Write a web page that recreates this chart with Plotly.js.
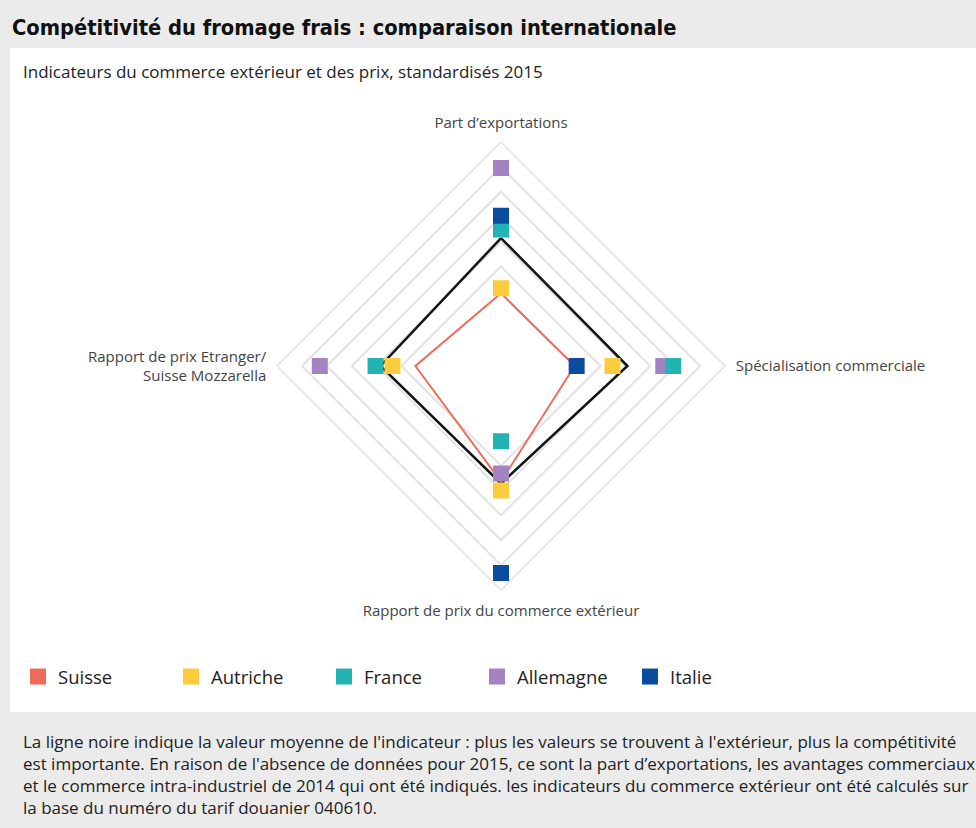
<!DOCTYPE html>
<html><head><meta charset="utf-8">
<script src="https://cdn.plot.ly/plotly-3.0.1.min.js"></script>
<style>html,body{margin:0;padding:0;background:#ebebeb}#chart{width:976px;height:828px}</style>
</head><body><div id="chart"></div>
<script>
// ---- data (standardised indicators, 2015) ----
const categories = ["Part d\u2019exportations", "Spécialisation commerciale", "Rapport de prix du commerce extérieur", "Rapport de prix Etranger/<br>Suisse Mozzarella"];
const suisse    = [-1.04, -1.02, -0.18, -0.78];
const autriche  = [-0.94, -0.26,  0.00, -0.32];
const france    = [ 0.24,  0.96, -0.99,  0.02];
const allemagne = [ 1.48,  0.76, -0.34,  1.14];
const italie    = [ 0.52, -0.98,  1.66,  null];
const moyenne   = [ 0.07,  0.04, -0.14, -0.08];
const radialTicks = [-0.5, 0, 0.5, 1, 1.5, 2];

const colors = {Suisse:"#ef6a58", Autriche:"#fdcb3e", France:"#24b3b3", Allemagne:"#a384c2", Italie:"#0b4c9f"};
const W = 976, H = 828;
const px = x => x / W, py = y => 1 - y / H;
const TFONT = "'DejaVu Sans Condensed', 'DejaVu Sans', sans-serif";
const FONT = "'Open Sans', 'Noto Sans', sans-serif";

const closed = arr => arr.concat([arr[0]]);
const thetaClosed = closed(categories);
const mk = (c) => ({symbol:"square", size:16, color:c, line:{width:0}});

const traces = [
  {type:"scatterpolar", r:closed(moyenne), theta:thetaClosed, mode:"lines", line:{color:"#141414", width:2.5}, showlegend:false, hoverinfo:"skip", cliponaxis:true},
  {type:"scatterpolar", r:closed(suisse), theta:thetaClosed, mode:"lines", line:{color:colors.Suisse, width:2}, name:"Suisse", legendgroup:"Suisse", showlegend:false, cliponaxis:true},
  {type:"scatterpolar", r:autriche, theta:categories, mode:"markers", marker:mk(colors.Autriche), name:"Autriche", legendrank:2, cliponaxis:true},
  {type:"scatterpolar", r:allemagne, theta:categories, mode:"markers", marker:mk(colors.Allemagne), name:"Allemagne", legendrank:4, cliponaxis:true},
  {type:"scatterpolar", r:france, theta:categories, mode:"markers", marker:mk(colors.France), name:"France", legendrank:3, cliponaxis:true},
  {type:"scatterpolar", r:italie, theta:categories, mode:"markers", marker:mk(colors.Italie), name:"Italie", legendrank:5, cliponaxis:true},
  {type:"scatterpolar", r:[null], theta:[null], mode:"markers", marker:mk(colors.Suisse), name:"Suisse", legendgroup:"Suisse", legendrank:1, cliponaxis:true}
];

const cx = 501, cy = 366, R = 224;
const layout = {
  width:W, height:H,
  margin:{l:0, r:0, t:0, b:0},
  paper_bgcolor:"#ebebeb",
  font:{family:FONT, color:"#222"},
  title:{text:"<b>Compétitivité du fromage frais : comparaison internationale</b>", x:px(12), xanchor:"left", xref:"container", y:py(27), yanchor:"middle", yref:"container", font:{size:21.7, color:"#111", family:TFONT}},
  shapes:[{type:"rect", xref:"paper", yref:"paper", x0:px(10), x1:px(976), y0:py(48), y1:py(712), fillcolor:"#ffffff", line:{width:0}, layer:"below"}],
  polar:{
    domain:{x:[px(cx-R), px(cx+R)], y:[py(cy+R), py(cy-R)]},
    bgcolor:"rgba(0,0,0,0)",
    gridshape:"linear",
    radialaxis:{range:[-2.5, 2], tickvals:radialTicks, showticklabels:false, ticks:"", showline:false, gridcolor:"#e2e2e2", gridwidth:1.5},
    angularaxis:{direction:"clockwise", rotation:90, showgrid:false, ticks:"outside", ticklen:7, tickcolor:"rgba(0,0,0,0)", linecolor:"#e2e2e2", linewidth:1.5, tickfont:{size:15, color:"#444", family:FONT}}
  },
  showlegend:true,
  legend:{orientation:"h", x:px(18), xanchor:"left", y:py(677), yanchor:"middle", font:{size:18.5, color:"#222", family:FONT}, entrywidthmode:"pixels", entrywidth:108, bgcolor:"rgba(0,0,0,0)", traceorder:"normal"},
  annotations:[
    {text:"Indicateurs du commerce extérieur et des prix, standardisés 2015", xref:"paper", yref:"paper", x:px(21), y:py(72), xanchor:"left", yanchor:"middle", showarrow:false, font:{size:17, color:"#222", family:FONT}},
    {text:"La ligne noire indique la valeur moyenne de l'indicateur : plus les valeurs se trouvent à l'extérieur, plus la compétitivité<br>est importante. En raison de l'absence de données pour 2015, ce sont la part d\u2019exportations, les avantages commerciaux<br>et le commerce intra-industriel de 2014 qui ont été indiqués. les indicateurs du commerce extérieur ont été calculés sur<br>la base du numéro du tarif douanier 040610.", xref:"paper", yref:"paper", x:px(21), y:py(728), xanchor:"left", yanchor:"top", align:"left", showarrow:false, font:{size:17, color:"#222", family:FONT}}
  ]
};
Plotly.newPlot("chart", traces, layout, {displayModeBar:false, responsive:false});
</script></body></html>
